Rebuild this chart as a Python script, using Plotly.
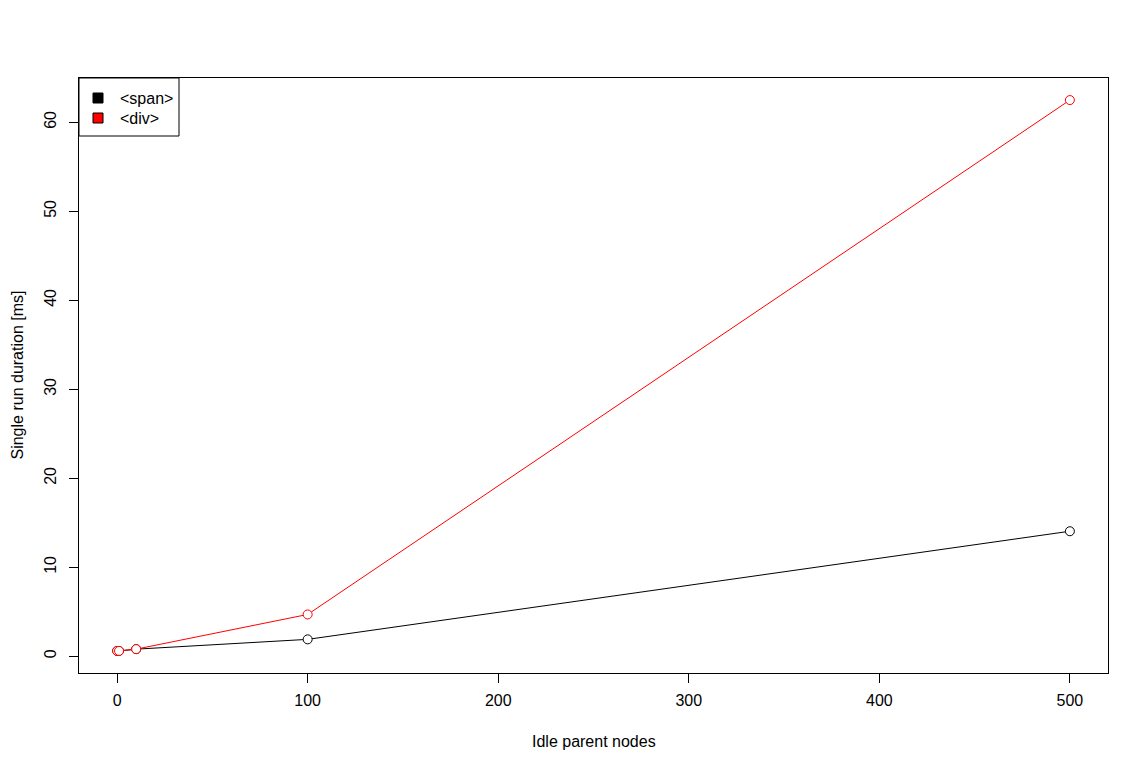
import plotly.graph_objects as go

idle_nodes = [0, 1, 10, 100, 500]
span_ms = [0.6, 0.6, 0.8, 1.9, 14.05]
div_ms = [0.6, 0.6, 0.8, 4.7, 62.5]
series_names = ["<span>", "<div>"]
series_colors = ["black", "red"]
x_ticks = [0, 100, 200, 300, 400, 500]
y_ticks = [0, 10, 20, 30, 40, 50, 60]
x_title = "Idle parent nodes"
y_title = "Single run duration [ms]"

fig = go.Figure()
for name, vals, col in zip(series_names, [span_ms, div_ms], series_colors):
    fig.add_trace(go.Scatter(
        x=idle_nodes, y=vals, mode="lines+markers", name=name,
        line=dict(color=col, width=1),
        marker=dict(symbol="circle", size=9, color="white",
                    line=dict(color=col, width=1)),
        showlegend=False,
    ))

font = dict(family="Liberation Sans, Arial, sans-serif", size=16, color="black")
fig.update_layout(
    width=1148, height=771,
    margin=dict(l=71, r=48, t=70, b=106),
    paper_bgcolor="white", plot_bgcolor="white",
    font=font,
    xaxis=dict(range=[-20, 520], tickvals=x_ticks, ticks="outside", ticklen=9,
               tickcolor="black", showgrid=False, zeroline=False, showline=True,
               linecolor="black", linewidth=1, mirror=True, ticklabelstandoff=4,
               automargin=False, tickfont=font),
    yaxis=dict(range=[-1.88, 64.98], tickvals=y_ticks, ticks="outside", ticklen=9,
               tickcolor="black", showgrid=False, zeroline=False, showline=True,
               linecolor="black", linewidth=1, mirror=True, tickangle=-90,
               ticklabelstandoff=7, automargin=False, tickfont=font),
)

# axis titles placed R-style
fig.add_annotation(xref="paper", yref="paper", x=0.5, y=0, yshift=-68,
                   text=x_title, showarrow=False, xanchor="center",
                   yanchor="middle", font=font)
fig.add_annotation(xref="paper", yref="paper", x=0, y=0.5, xshift=-62,
                   text=y_title, showarrow=False, textangle=-90,
                   xanchor="center", yanchor="middle", font=font)

pw, ph = 1148 - 71 - 48, 771 - 70 - 106
def px(xp):
    return xp / pw
def py(yp):
    return 1 - yp / ph

fig.add_shape(type="rect", xref="paper", yref="paper",
              x0=0, x1=px(100), y0=py(58), y1=1,
              line=dict(color="black", width=1), fillcolor="white")
for i, (name, col) in enumerate(zip(series_names, series_colors)):
    cy = 20 + i * 20
    fig.add_shape(type="rect", xref="paper", yref="paper",
                  x0=px(14), x1=px(24), y0=py(cy + 5), y1=py(cy - 5),
                  line=dict(color="black", width=1), fillcolor=col)
    fig.add_annotation(xref="paper", yref="paper", x=px(39), y=py(cy),
                       text=name.replace("<", "&lt;").replace(">", "&gt;"),
                       showarrow=False, xanchor="left", yanchor="middle",
                       font=font)

fig.write_html("out.html")
